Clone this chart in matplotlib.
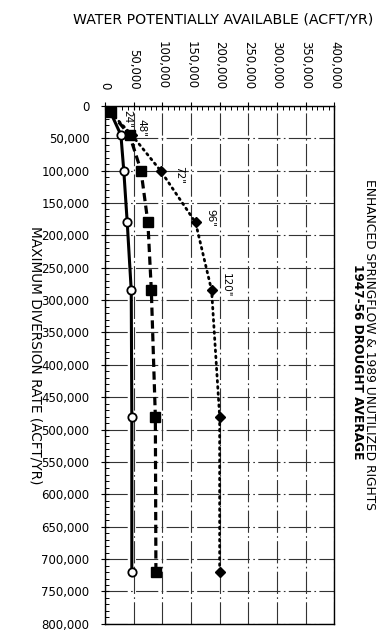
import numpy as np
import matplotlib
matplotlib.use('Agg')
import matplotlib.pyplot as plt
from matplotlib.ticker import MultipleLocator, FuncFormatter

# diversion rate (acft/yr) and water potentially available (acft/yr)
diversion = [10000, 45000, 100000, 180000, 285000, 480000, 720000]
avail_circle = [10000, 28000, 33000, 39000, 46000, 47000, 47000]
avail_square = [10000, 43000, 63000, 75000, 81000, 88000, 89000]
avail_diamond = [10000, 47000, 97000, 158000, 186000, 200000, 200000]
pipe_labels = ['24"', '48"', '72"', '96"', '120"']

plt.rcParams['font.family'] = ['DejaVu Sans']

fig = plt.figure(figsize=(3.84, 6.34), dpi=100)
ax = fig.add_axes([0.273, 0.016, 0.598, 0.817])

ax.plot(avail_circle, diversion, color='black', lw=2.2, ls='-',
        marker='o', ms=6, mfc='white', mec='black', mew=1.3, zorder=4)
ax.plot(avail_square, diversion, color='black', lw=2.3, ls=(0, (2.6, 1.4)),
        marker='s', ms=6.5, mfc='black', mec='black', zorder=5)
ax.plot(avail_diamond, diversion, color='black', lw=2.0, ls=(0, (0.6, 1.6)),
        dash_capstyle='round', marker='D', ms=5.5, mfc='black', mec='black', zorder=3)

# pipe size labels next to the diamond points (offsets in points)
offsets = [(12, -5), (7, 5), (13.5, -3), (11, 3), (10, 3.5)]
for lab, x, y, off in zip(pipe_labels, avail_diamond, diversion, offsets):
    ax.annotate(lab, (x, y), xytext=off, textcoords='offset points',
                rotation=270, fontsize=7.5, ha='center', va='center')

ax.set_xlim(0, 400000)
ax.set_ylim(800000, 0)

ax.xaxis.set_major_locator(MultipleLocator(50000))
ax.xaxis.set_minor_locator(MultipleLocator(10000))
ax.yaxis.set_major_locator(MultipleLocator(50000))
ax.yaxis.set_minor_locator(MultipleLocator(10000))
fmt = FuncFormatter(lambda v, p: '{:,.0f}'.format(v))
ax.xaxis.set_major_formatter(fmt)
ax.yaxis.set_major_formatter(fmt)

ax.xaxis.tick_top()
ax.tick_params(axis='x', which='major', direction='inout', length=6, width=0.8,
               labelsize=8.5, labelrotation=270, pad=9)
ax.tick_params(axis='y', which='major', direction='inout', length=6, width=0.8,
               labelsize=8.5, pad=8)
ax.tick_params(which='minor', direction='in', length=3, width=0.7)
ax.tick_params(axis='y', which='minor', left=True)
ax.tick_params(axis='x', which='minor', top=True, bottom=False)

ax.grid(True, which='major', color='#333333', lw=0.8, ls=(0, (20, 3, 1.5, 3)))
for s in ax.spines.values():
    s.set_linewidth(1.0)

fig.text(0.580, 0.970, 'WATER POTENTIALLY AVAILABLE (ACFT/YR)',
         ha='center', va='center', fontsize=10.2)
fig.text(0.092, 0.440, 'MAXIMUM DIVERSION RATE (ACFT/YR)',
         ha='center', va='center', rotation=270, fontsize=9.8)
fig.text(0.962, 0.456, 'ENHANCED SPRINGFLOW & 1989 UNUTILIZED RIGHTS',
         ha='center', va='center', rotation=270, fontsize=8.8)
fig.text(0.930, 0.429, '1947-56 DROUGHT AVERAGE',
         ha='center', va='center', rotation=270, fontsize=8.7, fontweight='bold')

fig.savefig('out.png', dpi=100)
